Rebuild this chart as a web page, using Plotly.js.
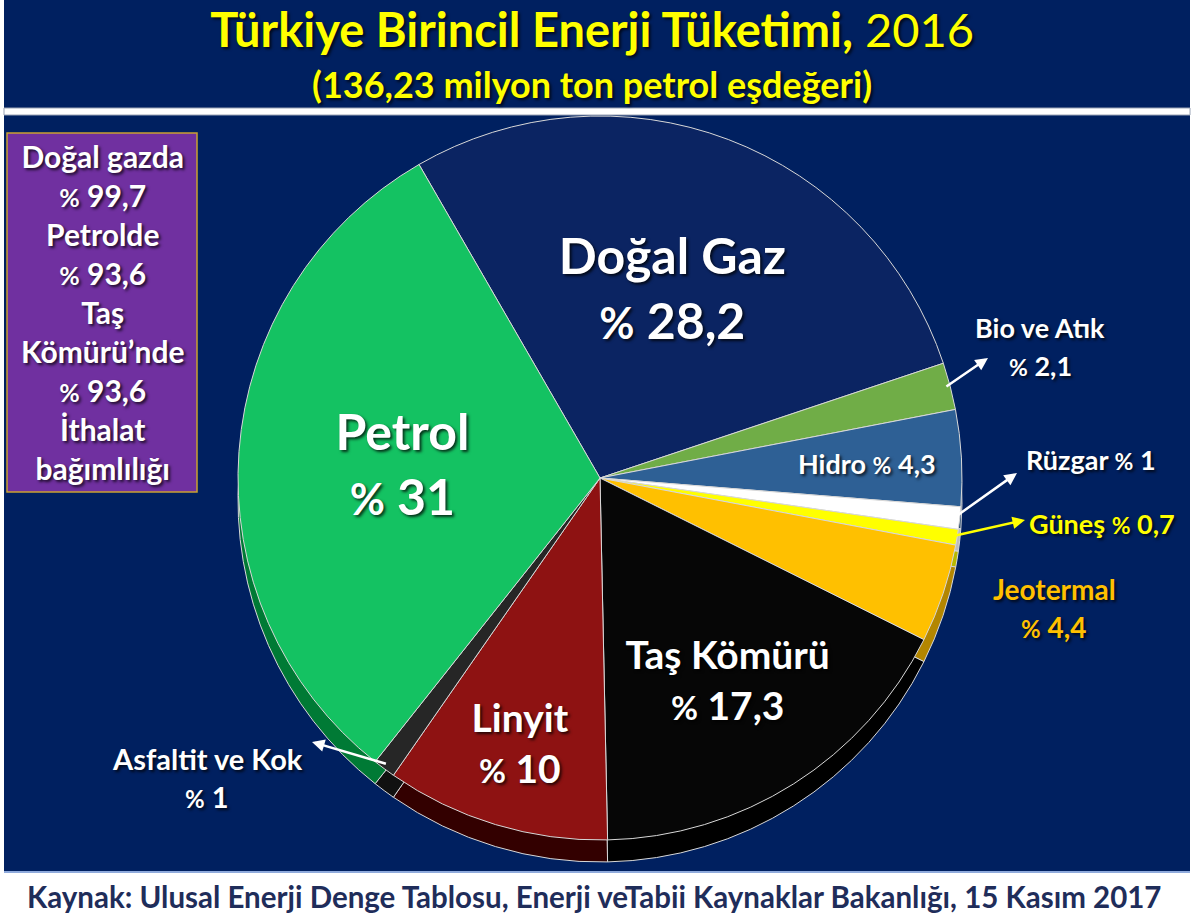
<!DOCTYPE html>
<html><head><meta charset="utf-8">
<script src="https://cdn.plot.ly/plotly-3.0.1.min.js"></script>
<style>html,body{margin:0;padding:0;background:#002060;overflow:hidden;}</style>
</head><body><div id="chart" style="width:1194px;height:917px;"></div>
<script>
// ---- data ----
const labels = ['Doğal Gaz','Bio ve Atık','Hidro','Rüzgar','Güneş','Jeotermal','Taş Kömürü','Linyit','Asfaltit ve Kok','Petrol'];
const values = [28.2, 2.1, 4.3, 1, 0.7, 4.4, 17.3, 10, 1, 31];
const topColors  = ['#0B2462','#70AD47','#2E6095','#FFFFFF','#FFFF00','#FFC000','#060606','#8E1212','#262626','#14C262'];
const sideColors = ['#061a4c','#4b7d2e','#1c3f66','#bdbdbd','#b8b800','#b38600','#000000','#330000','#111111','#007a35'];
const importLines = ['Doğal gazda','% 99,7','Petrolde','% 93,6','Taş','Kömürü’nde','% 93,6','İthalat','bağımlılığı'];
const titleMain = 'Türkiye Birincil Enerji Tüketimi,';
const titleYear = '2016';
const subtitleText = '(136,23 milyon ton petrol eşdeğeri)';
const sourceText = 'Kaynak: Ulusal Enerji Denge Tablosu, Enerji veTabii Kaynaklar Bakanlığı, 15 Kasım 2017';

// ---- geometry / style ----
const W = 1194, H = 917;
const cx = 600, cy = 478, R = 362, depth = 22, rotation = -30;
const px = x => x / W;
const py = y => 1 - y / H;
const pct = (v, s) => '<span style="font-size:' + s + 'px">%</span> ' + String(v).replace('.', ',');
const FONT = 'Lato, "Open Sans", sans-serif';
const SHADOW = '2px 2px 3px rgba(0,0,0,0.75)';

// which slices carry their label inside (library text)
const insideIdx = {0: 50, 6: 39, 7: 39, 9: 50};
const sliceText = labels.map((l, i) => (i in insideIdx) ? '<b>' + l + '<br>' + pct(values[i], Math.round(insideIdx[i] * 0.85)) + '</b>' : '');
const sliceTextPos = labels.map((l, i) => (i in insideIdx) ? 'inside' : 'none');
const sliceTextSize = labels.map((l, i) => insideIdx[i] || 12);

const dom = (yc) => ({x: [px(cx - R), px(cx + R)], y: [py(yc + R), py(yc - R)]});

const sideTrace = {
  type: 'pie', labels: labels, values: values, sort: false, direction: 'clockwise', rotation: rotation,
  domain: dom(cy + depth), marker: {colors: sideColors, line: {color: '#d8d8d8', width: 1}},
  textinfo: 'none', hoverinfo: 'skip', showlegend: false
};
const topTrace = {
  type: 'pie', labels: labels, values: values, sort: false, direction: 'clockwise', rotation: rotation,
  domain: dom(cy), marker: {colors: topColors, line: {color: '#d8d8d8', width: 1}},
  text: sliceText, texttemplate: '%{text}', textposition: sliceTextPos,
  insidetextorientation: 'horizontal',
  insidetextfont: {family: FONT, color: '#FFFFFF', size: sliceTextSize, shadow: SHADOW},
  hoverinfo: 'skip', showlegend: false
};

// slice mid-angle (clockwise from 12 o'clock, degrees) from data
const total = values.reduce((a, b) => a + b, 0);
function midAngle(i) {
  let before = 0; for (let k = 0; k < i; k++) before += values[k];
  return rotation + (before + values[i] / 2) / total * 360;
}
function pointAt(i, frac) {
  const a = midAngle(i) * Math.PI / 180;
  return [cx + R * frac * Math.sin(a), cy - R * frac * Math.cos(a)];
}

const annotations = [];
function addText(text, x, y, size, color) {
  annotations.push({xref: 'paper', yref: 'paper', x: px(x), y: py(y), xanchor: 'center', yanchor: 'middle',
    text: text, showarrow: false, font: {family: FONT, size: size, color: color, shadow: SHADOW}});
}
function addArrow(i, hx, hy, color) {
  const t = pointAt(i, 0.985);
  annotations.push({xref: 'paper', yref: 'paper', x: px(hx), y: py(hy), ax: t[0] - hx, ay: t[1] - hy,
    text: '', showarrow: true, arrowhead: 2, arrowsize: 1, arrowwidth: 2.5, arrowcolor: color});
}

// subtitle
addText('<b>' + subtitleText + '</b>', 592, 84, 36, '#FFFF00');
// Hidro inside label
const hp = pointAt(2, 0.74);
addText('<b>' + labels[2] + ' ' + pct(values[2], 23) + '</b>', hp[0], hp[1], 27, '#FFFFFF');
// outside labels
addText('<b>' + labels[1] + '</b>', 1040, 327, 27, '#FFFFFF');
addText('<b>' + pct(values[1], 23) + '</b>', 1040, 365, 27, '#FFFFFF');
addArrow(1, 988, 358, '#FFFFFF');
addText('<b>' + labels[3] + ' ' + pct(values[3], 23) + '</b>', 1091, 459, 27, '#FFFFFF');
addArrow(3, 1017, 473, '#FFFFFF');
addText('<b>' + labels[4] + ' ' + pct(values[4], 23) + '</b>', 1102, 523, 27, '#FFFF00');
addArrow(4, 1025, 520, '#FFFF00');
addText('<b>' + labels[5] + '</b>', 1054, 589, 28, '#FFC000');
addText('<b>' + pct(values[5], 24) + '</b>', 1054, 627, 28, '#FFC000');
addText('<b>' + labels[8] + '</b>', 207, 758, 29, '#FFFFFF');
addText('<b>' + pct(values[8], 24) + '</b>', 207, 796, 29, '#FFFFFF');
addArrow(8, 312, 742, '#FFFFFF');
// import dependency box text
addText('<b>' + importLines.map(s => s.replace('% ', '<span style="font-size:25px">%</span> ')).join('<br>') + '</b>', 102, 312, 30, '#FFFFFF');
// source
annotations.push({xref: 'paper', yref: 'paper', x: px(594), y: py(896), xanchor: 'center', yanchor: 'middle',
  text: '<b>' + sourceText + '</b>', showarrow: false, font: {family: FONT, size: 29.5, color: '#1F2D5A'}});

const shapes = [
  // slide side borders
  {type: 'rect', xref: 'paper', yref: 'paper', x0: 0, x1: px(4), y0: 0, y1: 1, fillcolor: '#FFFFFF', line: {width: 0}, layer: 'below'},
  {type: 'rect', xref: 'paper', yref: 'paper', x0: px(1190), x1: 1, y0: 0, y1: 1, fillcolor: '#FFFFFF', line: {width: 0}, layer: 'below'},
  // top white rule
  {type: 'rect', xref: 'paper', yref: 'paper', x0: px(4), x1: px(1190), y0: py(115), y1: py(108), fillcolor: '#FFFFFF', line: {color: '#9aa3b5', width: 1}, layer: 'below'},
  // bottom band
  {type: 'rect', xref: 'paper', yref: 'paper', x0: px(4), x1: px(1190), y0: 0, y1: py(873), fillcolor: '#FFFFFF', line: {width: 0}, layer: 'below'},
  {type: 'line', xref: 'paper', yref: 'paper', x0: px(4), x1: px(1190), y0: py(872), y1: py(872), line: {color: '#8FAADC', width: 2}},
  // import box
  {type: 'rect', xref: 'paper', yref: 'paper', x0: px(7), x1: px(197), y0: py(492), y1: py(133), fillcolor: '#7030A0', line: {color: '#C9A030', width: 1.5}, layer: 'below'}
];

const layout = {
  width: W, height: H, margin: {l: 0, r: 0, t: 0, b: 0},
  paper_bgcolor: '#002060', plot_bgcolor: '#002060',
  title: {text: '<b>' + titleMain + '</b> ' + titleYear, x: 0.496, xanchor: 'center', y: py(31), yanchor: 'middle',
    font: {family: FONT, size: 47, color: '#FFFF00', shadow: SHADOW}},
  showlegend: false, shapes: shapes, annotations: annotations
};

Plotly.newPlot('chart', [sideTrace, topTrace], layout, {displayModeBar: false, staticPlot: true});
</script></body></html>
